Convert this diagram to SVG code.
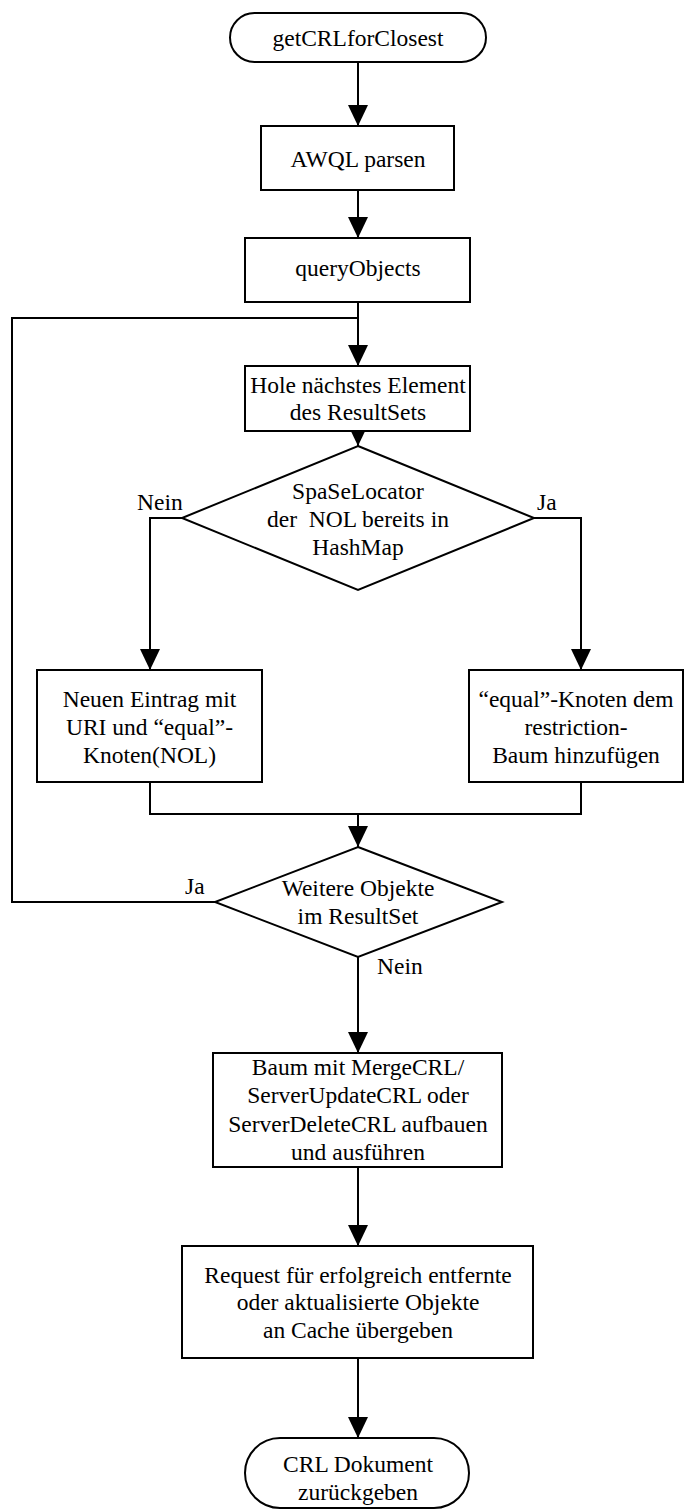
<svg xmlns="http://www.w3.org/2000/svg" width="685" height="1512" viewBox="0 0 685 1512">
<style>
.s{fill:#fff;stroke:#000;stroke-width:2}
.c{fill:none;stroke:#000;stroke-width:2}
text{font-family:"Liberation Serif","Times New Roman",serif;font-size:23.5px;fill:#000}
.m{text-anchor:middle}
</style>
<defs>
<marker id="a" markerUnits="userSpaceOnUse" markerWidth="22" markerHeight="22" viewBox="0 0 22 22" refX="21" refY="11" orient="auto">
<path d="M0,1 L21,11 L0,21 Z" fill="#000"/>
</marker>
</defs>
<g id="connectors">
<path class="c" d="M358,62 V126" marker-end="url(#a)"/>
<path class="c" d="M358,190 V238" marker-end="url(#a)"/>
<path class="c" d="M358,302 V366" marker-end="url(#a)"/>
<path class="c" d="M358,431 V446" marker-end="url(#a)"/>
<path class="c" d="M182,518 H150 V670" marker-end="url(#a)"/>
<path class="c" d="M534,518 H581 V670" marker-end="url(#a)"/>
<path class="c" d="M150,782 V814 H581 V782"/>
<path class="c" d="M358,814 V847" marker-end="url(#a)"/>
<path class="c" d="M215,902 H12 V318 H358"/>
<path class="c" d="M358,957 V1053" marker-end="url(#a)"/>
<path class="c" d="M358,1167 V1246" marker-end="url(#a)"/>
<path class="c" d="M358,1358 V1438" marker-end="url(#a)"/>
<text x="137" y="510">Nein</text>
<text x="537" y="510">Ja</text>
<text x="185" y="894">Ja</text>
<text x="377" y="974">Nein</text>
</g>
<g id="start">
<rect class="s" x="230" y="13" width="256" height="49" rx="24.5"/>
<text class="m" x="358" y="46">getCRLforClosest</text>
</g>
<g id="awql">
<rect class="s" x="261" y="126" width="193" height="64"/>
<text class="m" x="358" y="167">AWQL parsen</text>
</g>
<g id="query">
<rect class="s" x="245" y="238" width="225" height="64"/>
<text class="m" x="358" y="276">queryObjects</text>
</g>
<g id="hole">
<rect class="s" x="245" y="366" width="225" height="65"/>
<text class="m" x="358" y="393">Hole nächstes Element</text>
<text class="m" x="358" y="420">des ResultSets</text>
</g>
<g id="decision1">
<polygon class="s" points="358,446 534,518 358,590 182,518"/>
<text class="m" x="358" y="499">SpaSeLocator</text>
<text class="m" x="358" y="527" style="white-space:pre">der  NOL bereits in</text>
<text class="m" x="358" y="555">HashMap</text>
</g>
<g id="neu">
<rect class="s" x="37" y="670" width="225" height="112"/>
<text class="m" x="149.5" y="707">Neuen Eintrag mit</text>
<text class="m" x="149.5" y="735">URI und “equal”-</text>
<text class="m" x="149.5" y="763">Knoten(NOL)</text>
</g>
<g id="equal">
<rect class="s" x="469" y="670" width="214" height="112"/>
<text class="m" x="576" y="707">“equal”-Knoten dem</text>
<text class="m" x="576" y="735">restriction-</text>
<text class="m" x="576" y="763">Baum hinzufügen</text>
</g>
<g id="decision2">
<polygon class="s" points="358,847 502,902 358,957 215,902"/>
<text class="m" x="358" y="896">Weitere Objekte</text>
<text class="m" x="358" y="924">im ResultSet</text>
</g>
<g id="baum">
<rect class="s" x="213" y="1053" width="289" height="114"/>
<text class="m" x="358" y="1075">Baum mit MergeCRL/</text>
<text class="m" x="358" y="1103">ServerUpdateCRL oder</text>
<text class="m" x="358" y="1132">ServerDeleteCRL aufbauen</text>
<text class="m" x="358" y="1160">und ausführen</text>
</g>
<g id="request">
<rect class="s" x="182" y="1246" width="351" height="112"/>
<text class="m" x="358" y="1283">Request für erfolgreich entfernte</text>
<text class="m" x="358" y="1310">oder aktualisierte Objekte</text>
<text class="m" x="358" y="1338">an Cache übergeben</text>
</g>
<g id="end">
<rect class="s" x="245" y="1438" width="224" height="70" rx="35"/>
<text class="m" x="358" y="1472">CRL Dokument</text>
<text class="m" x="358" y="1500">zurückgeben</text>
</g>
</svg>
